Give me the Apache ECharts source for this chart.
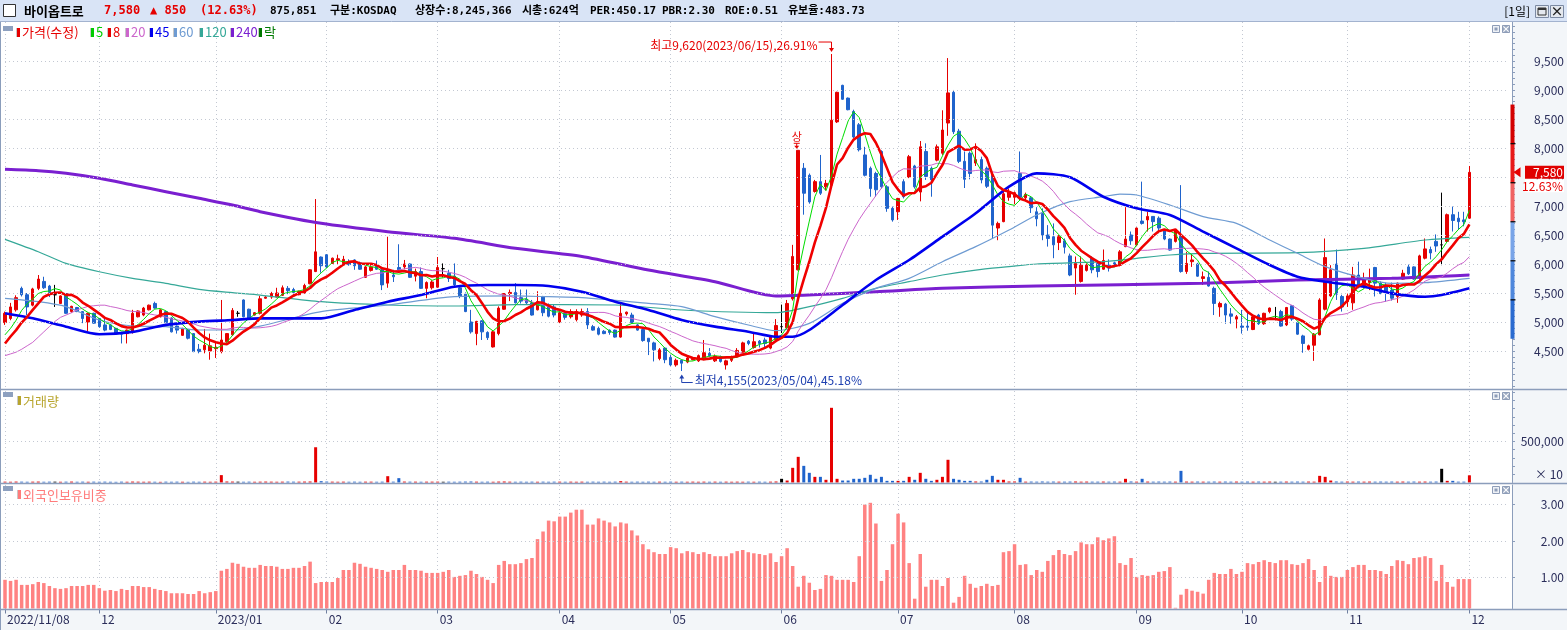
<!DOCTYPE html>
<html><head><meta charset="utf-8">
<script src="https://cdn.jsdelivr.net/npm/echarts@6/dist/echarts.min.js"></script>
<style>html,body{margin:0;padding:0;background:#fff;}#c{width:1567px;height:630px;}</style>
</head><body><div id="c"></div>
<script>
// ---------------- DATA ----------------
const monthLabels = ['2022/11/08','12','2023/01','02','03','04','05','06','07','08','09','10','11','12'];
const monthDays   = [17,21,20,20,22,20,20,21,21,22,19,19,22,1];

const opens = [
4990,5060,5210,5580,5470,5290,5580,5700,5620,5470,5320,5490,5180,5250,5180,5000,5150,
5060,4950,4950,4890,4820,4800,4830,5090,5120,5210,5320,5090,5180,5070,4930,4770,4870,4800,4530,4520,4500,
4540,4490,4660,4780,5150,5380,5220,5120,5150,5410,5430,5430,5460,5580,5560,5470,5500,5660,5870,6120,
6160,6010,6070,6010,6040,6070,6020,5770,5890,5980,5900,5670,5810,5940,5950,6000,5790,5870,5580,5590,
5600,5920,5840,5790,5590,5480,5000,4800,5020,4820,4570,4800,5220,5490,5510,5420,5390,5330,5210,5440,5270,5260,
5000,5150,5090,5040,5120,5180,4920,4890,4840,4860,4860,4740,5140,5120,4950,4870,4720,4640,4370,4550,
4390,4260,4340,4310,4350,4330,4350,4460,4330,4400,4260,4340,4400,4480,4670,4560,4670,4690,4550,4700,
4920,4900,5400,5900,7650,7530,7250,7420,7330,7360,8450,9080,8860,8630,8400,7880,7650,7560,7940,7330,6960,
6900,7420,7500,7690,7240,7940,7650,7790,7910,8430,8960,8290,7770,7910,7740,7800,7650,7530,6620,6730,7150,
7150,7560,7140,7140,6900,6870,6500,6470,6370,6400,6140,5930,5700,5890,6100,6010,5910,5980,6020,5980,6300,6500,
6330,6740,6760,6820,6790,6590,6430,6390,6480,5870,6040,6000,5750,5770,5580,5260,5310,5140,5050,
4930,4930,4870,5120,4970,5180,5060,5180,4950,5280,4990,4760,4530,4600,4780,5220,5450,6000,5440,
5350,5330,5810,5610,5680,5940,5670,5620,5550,5440,5740,5950,5950,5760,6100,6250,6390,6330,6390,6850,6790,6760,
6790];
const closes = [
5150,5260,5420,5470,5260,5570,5740,5590,5510,5470,5450,5150,5270,5180,5060,5150,4980,
4920,4860,4870,4800,4790,4860,5150,5190,5240,5290,5240,5210,4990,4830,4860,4890,4720,4490,4490,4600,4590,
4560,4690,4800,5200,5150,5090,5060,5160,5400,5430,5490,5500,5590,5540,5510,5530,5630,5900,6210,5970,
5950,6100,6090,6080,5990,5970,5910,5950,5950,5910,5640,5900,5780,5900,6000,5770,5870,5580,5680,5690,
5940,5920,5750,5640,5440,5180,4830,5010,4830,4730,4830,5240,5490,5510,5330,5360,5330,5120,5350,5160,5100,5120,
5160,5080,5180,5180,5180,4950,4860,4790,4800,4820,4740,5150,5170,4990,4860,4680,4660,4520,4520,4350,
4260,4340,4290,4380,4370,4420,4470,4420,4410,4320,4330,4400,4510,4640,4630,4660,4630,4630,4750,4940,
4920,5320,6130,7960,7220,7070,7420,7220,7390,8480,8960,8840,8660,8190,7970,7530,7300,7280,7330,6960,6760,
7130,7160,7850,7330,8020,7510,7450,8020,8310,8950,8280,7770,7460,7560,7800,7450,7340,6670,6700,7210,7240,
7230,7150,7200,6970,6780,6500,6440,6330,6470,6290,5810,6010,5980,5980,5900,5870,6060,5930,5980,6210,6430,6400,
6620,6700,6820,6730,6620,6430,6240,6590,5870,6010,6070,5790,5780,5620,5320,5320,5120,5100,5090,
4910,4910,5090,4970,5150,5240,5060,4930,5250,5050,4790,4630,4590,4790,5380,6110,5900,5480,5260,
5450,5810,5600,5750,5750,5670,5490,5520,5410,5670,5840,5830,5740,6140,6260,6190,6310,6330,6850,6750,6730,6730,
7580];
const lows = [
4950,5030,5180,5440,5120,5270,5550,5570,5430,5260,5310,5140,5160,5170,4980,4840,4970,
4900,4840,4860,4790,4630,4630,4800,5080,5100,5200,5230,5080,4980,4820,4800,4760,4700,4480,4460,4460,4350,
4380,4460,4650,4760,5090,5080,5050,5110,5130,5400,5400,5420,5450,5480,5460,5460,5490,5650,5860,5850,
5930,6000,6000,5980,5970,5900,5900,5760,5870,5900,5550,5590,5690,5870,5910,5760,5700,5570,5410,5560,
5590,5770,5690,5620,5410,5170,4800,4600,4690,4690,4560,4770,5210,5360,5320,5320,5310,5110,5200,5100,5080,5080,
4980,5040,5060,5010,5090,4880,4850,4770,4790,4780,4730,4730,5110,4970,4850,4660,4430,4320,4340,4290,
4240,4230,4155,4290,4340,4310,4340,4400,4310,4300,4180,4310,4380,4470,4600,4540,4560,4560,4530,4680,
4810,4880,5370,5890,6850,7040,7230,7190,7270,7330,8430,8830,8650,8170,7940,7510,7160,7160,7300,6900,6730,
6760,7130,7480,7300,7080,7450,7160,7770,7880,8210,8240,7740,7310,7460,7690,7390,7310,6440,6410,6720,7090,
7030,7090,7080,6880,6650,6410,6300,6100,6240,6180,5790,5470,5680,5870,5840,5770,5900,5870,5950,5960,6290,6330,
6310,6680,6560,6560,6530,6410,6230,6370,5850,5830,5950,5780,5640,5610,5120,5090,4970,4970,4890,
4800,4850,4860,4950,4950,5150,5030,4920,4930,5020,4780,4470,4510,4330,4770,5200,5430,5380,5180,
5260,5210,5580,5580,5550,5440,5480,5350,5370,5330,5730,5810,5730,5730,6080,6080,6210,5980,6370,6560,6590,6650,
6780];
const highs = [
5180,5330,5460,5610,5500,5590,5810,5780,5640,5640,5460,5500,5280,5260,5190,5160,5160,
5070,5060,4960,4900,4830,4870,5210,5200,5260,5300,5350,5220,5190,5080,4940,4900,4880,4810,4620,4880,4800,
4660,5380,4810,5240,5190,5390,5230,5170,5450,5450,5520,5590,5630,5620,5590,5540,5660,5910,7120,6130,
6170,6110,6160,6140,6080,6080,6040,5970,5980,6060,5950,6470,5900,6340,6070,6010,5920,5940,5700,5720,
6120,6010,5900,6010,5620,5510,5210,5020,5030,4840,4860,5270,5500,5560,5670,5560,5560,5380,5530,5450,5320,5300,
5200,5160,5220,5220,5230,5240,4950,4920,4860,4870,4870,5320,5180,5160,4970,4900,4720,4660,4550,4560,
4430,4370,4350,4400,4390,4440,4690,4550,4440,4420,4350,4420,4550,4660,4690,4800,4690,4730,4770,5050,
5300,5380,6330,7960,7740,7560,7450,7880,7450,9620,8970,9090,8870,8660,8430,8020,7680,7590,7960,7360,6990,
7140,7460,7880,7710,8120,8080,7680,8060,8650,9550,9000,8330,7940,7940,8080,7850,7680,7560,6730,7250,7300,
7250,7940,7230,7170,6980,6960,6670,6700,6500,6440,6180,6130,6130,6010,6130,6040,6250,6080,6040,6240,6980,6560,
6630,7420,6900,6820,6820,6600,6440,6600,7360,6210,6160,6020,5870,5870,5610,5350,5330,5240,5120,
5210,5180,5120,5140,5160,5250,5260,5210,5260,5290,5010,4780,4610,4810,5410,6440,5980,6250,5470,
5490,5950,6040,5850,5920,5950,5700,5680,5680,5680,5900,5990,5960,6160,6440,6300,6510,7230,6870,6990,6900,6900,
7690];

// volume, in thousands of axis units (axis shown "x 10")
const volumesK = [
10,9,11,10,9,10,11,9,10,10,9,10,11,9,10,9,10,
9,10,9,8,10,9,11,10,9,10,9,8,10,9,10,9,8,10,9,10,9,
10,90,12,11,10,9,10,9,10,11,10,9,10,11,10,10,11,12,430,16,
11,10,9,10,9,10,9,10,10,9,10,77,10,53,11,10,10,9,10,10,
10,9,10,9,10,11,12,10,9,10,9,11,12,10,9,10,9,10,9,10,9,10,
10,9,10,9,10,9,10,9,10,9,10,16,10,9,10,9,10,9,10,9,
10,9,10,9,10,9,10,9,10,9,10,9,10,9,10,9,10,9,10,12,
45,24,179,313,203,118,69,69,33,911,45,24,24,45,45,57,94,45,69,20,20,
20,20,69,33,118,45,20,33,69,277,45,33,20,20,12,12,33,81,33,33,12,
12,57,10,11,10,12,10,11,10,10,11,12,10,11,10,10,11,10,11,10,45,12,
10,45,11,10,11,10,11,10,142,11,10,11,10,10,11,10,11,10,11,
10,11,10,11,10,11,9,10,11,10,11,10,11,10,81,69,24,12,10,
11,10,11,10,11,10,11,10,11,10,11,10,11,10,11,10,11,167,20,20,10,10,
87.6];

// foreign ownership ratio (%)
const foreignPct = [
0.93,0.90,0.93,0.79,0.79,0.81,0.87,0.84,0.76,0.70,0.68,0.70,0.76,0.76,0.76,0.79,0.79,
0.70,0.63,0.65,0.62,0.68,0.65,0.76,0.76,0.73,0.73,0.68,0.65,0.62,0.56,0.56,0.56,0.54,0.54,0.62,0.56,0.59,
0.62,1.18,1.23,1.40,1.37,1.29,1.26,1.26,1.34,1.31,1.31,1.29,1.23,1.23,1.26,1.26,1.31,1.43,0.84,0.87,
0.87,0.87,0.98,1.20,1.20,1.40,1.37,1.29,1.26,1.23,1.20,1.15,1.20,1.20,1.34,1.20,1.20,1.18,1.12,1.12,
1.12,1.15,1.20,1.01,1.04,1.06,1.18,1.09,1.01,0.93,0.84,1.34,1.45,1.36,1.36,1.39,1.50,1.53,2.05,2.26,2.56,2.54,
2.67,2.67,2.78,2.86,2.86,2.45,2.45,2.62,2.56,2.51,2.40,2.51,2.48,2.29,2.15,1.91,1.77,1.69,1.64,1.64,
1.83,1.80,1.66,1.72,1.69,1.64,1.69,1.64,1.58,1.58,1.58,1.66,1.72,1.75,1.69,1.66,1.64,1.61,1.66,1.42,
1.58,1.80,1.31,0.74,1.04,0.85,0.65,0.68,1.06,1.04,0.93,0.93,0.93,0.87,1.58,3.00,3.05,2.48,0.90,1.20,1.91,
2.75,2.51,1.39,0.41,1.64,0.74,0.93,0.93,0.76,0.98,0.30,0.46,1.04,0.82,0.71,0.76,0.82,0.76,0.79,1.69,1.72,
1.91,1.34,1.36,1.06,1.20,1.15,1.45,1.61,1.75,1.64,1.61,1.72,1.96,1.91,1.91,2.10,2.02,2.07,2.13,1.39,1.34,1.53,
1.01,1.06,1.04,1.06,1.15,1.17,1.28,0.16,0.52,0.68,0.63,0.60,0.55,0.93,1.12,1.09,1.09,1.23,1.09,
1.15,1.39,1.36,1.42,1.47,1.42,1.39,1.47,1.47,1.36,1.34,1.39,1.50,1.20,0.87,1.31,1.04,1.01,1.01,
1.20,1.28,1.34,1.34,1.20,1.20,1.17,1.09,1.31,1.47,1.45,1.36,1.53,1.55,1.58,1.53,0.90,1.34,0.87,0.74,0.95,0.95,
0.95];

const ma5Head  = [4780,4890,5030,5200];
const ma8Head  = [4630,4750,4860,4990,5090,5210,5320];
const ma20Head = [4420,4450,4480,4530,4590,4650,4740,4830,4920,5010,5080,5120,5160,5210,5240,5270,5280,5290,5290];
const ma45Pts = [[0,5150],[5,5063],[11,4920],[17,4790],[23,4830],[29,4950],[35,5006],[41,5034],[46,5063],[57,5063],[63,5207],[69,5350],[75,5465],[81,5609],[87,5638],[92,5638],[98,5621],[104,5523],[110,5350],[116,5207],[122,5034],[128,4920],[134,4833],[139,4747],[142,4747],[145,4862],[151,5293],[157,5724],[163,6069],[169,6471],[175,6874],[181,7333],[186,7563],[192,7494],[198,7160],[204,6960],[210,6845],[216,6557],[222,6270],[228,5983],[233,5781],[238,5695],[245,5609],[250,5494],[256,5436],[259,5465],[264,5580]];
const ma60Pts = [[0,5408],[6,5350],[11,5264],[17,5034],[23,4931],[29,4920],[35,4862],[41,4862],[46,4930],[57,5178],[69,5293],[81,5436],[92,5450],[98,5436],[104,5420],[116,5322],[122,5264],[128,5092],[134,4948],[139,4850],[145,4977],[151,5322],[157,5580],[163,5753],[169,6040],[175,6299],[181,6586],[186,6845],[192,7074],[198,7160],[201,7206],[204,7189],[210,7017],[216,6816],[222,6701],[228,6414],[233,6184],[238,5954],[245,5753],[250,5667],[256,5678],[264,5753]];
const ma120Pts = [[0,6425],[6,6212],[11,6011],[17,5867],[23,5753],[29,5667],[35,5563],[41,5506],[46,5465],[57,5350],[69,5293],[81,5276],[92,5300],[110,5293],[122,5207],[139,5160],[145,5264],[151,5408],[157,5580],[163,5695],[169,5810],[175,5896],[181,5954],[186,6000],[198,6040],[204,6098],[210,6155],[216,6184],[233,6195],[245,6270],[256,6414],[264,6460]];
const ma240Pts = [[0,7632],[6,7609],[11,7563],[17,7477],[23,7362],[29,7247],[35,7132],[41,7017],[46,6902],[57,6701],[69,6557],[81,6442],[92,6270],[104,6130],[116,5896],[128,5695],[139,5448],[157,5523],[169,5580],[186,5620],[216,5667],[233,5724],[250,5753],[264,5810]];

const priceTicks   = [4500,5000,5500,6000,6500,7000,7500,8000,8500,9000,9500];
const volumeTicks  = [500000];
const foreignTicks = [1,2,3];

const highMark = {i:149, price:9620, date:'2023/06/15', pct:'26.91%'};
const lowMark  = {i:122, price:4155, date:'2023/05/04', pct:'45.18%'};
const limitUpIdx = 143;
const lastPrice = 7580, lastChange = 850, lastChangePct = 12.63;
const limitBands = [8749, 8076, 7403, 6730, 6057, 5384, 4711];

// ---------------- LAYOUT / STYLE ----------------
const N = 272, LEFT = 5, STEP = 5.547, AXIS_X = 1512;
const GW = (N - 1) * STEP;
const AXIS_OFF = AXIS_X - (LEFT + GW);
const UP = '#E60000', DOWN = '#1F63CC', DOJI = '#000000';
const GRIDC = '#C3C8D2';
const AXISC = '#8B9DBB';
const LBL = '#2A2D5A';
const FONT = '"Noto Sans CJK KR", "Noto Sans", sans-serif';
const MONO = '"DejaVu Sans Mono", "Noto Sans CJK KR", monospace';
const bandColors = ['#D40000','#E81818','#F06262','#78A4E8','#4E87DC','#2A6BD0'];

// ---------------- BUILD ----------------
const cats = [], monthStart = {};
let ci = 0;
monthDays.forEach((d, m) => { monthStart[ci] = monthLabels[m]; for (let k = 0; k < d; k++) { cats.push('d' + ci); ci++; } });
while (cats.length < N) cats.push('d' + cats.length);
const isMS = (i) => monthStart[i] !== undefined;

function sma(src, n, head) {
  const out = [];
  for (let i = 0; i < src.length; i++) {
    if (i < n - 1) { out.push(head[i]); continue; }
    let s = 0; for (let k = i - n + 1; k <= i; k++) s += src[k];
    out.push(Math.round(s / n));
  }
  return out;
}
const ma5 = sma(closes, 5, ma5Head), ma8 = sma(closes, 8, ma8Head), ma20 = sma(closes, 20, ma20Head);

const candleData = opens.map((o, i) => {
  const v = [o, closes[i], lows[i], highs[i]];
  if (o === closes[i]) return {value: v, itemStyle: {color: DOJI, color0: DOJI, borderColor: DOJI, borderColor0: DOJI}};
  return v;
});
const dirColor = (i) => closes[i] > opens[i] ? UP : (closes[i] < opens[i] ? DOWN : DOJI);
const volData = volumesK.map((v, i) => ({value: v * 1000, itemStyle: {color: dirColor(i)}}));

const fmt = (v) => v.toLocaleString('en-US');
const priceTickMarks = []; for (let v = 3900; v <= 10100; v += 100) priceTickMarks.push(v);
const volTickMarks = []; for (let v = 100000; v <= 1100000; v += 100000) volTickMarks.push(v);

const xBase = (gi, bottom) => ({
  type: 'category', gridIndex: gi, data: cats, boundaryGap: false,
  axisLine: {show: false},
  axisTick: bottom ? {show: true, interval: (i) => isMS(i), length: 5, lineStyle: {color: '#6F7F9F'}} : {show: false},
  axisLabel: bottom ? {show: true, interval: (i) => isMS(i), formatter: (v, i) => monthStart[i] || '',
    align: 'left', padding: [0,0,0,2], margin: 5, color: LBL, fontFamily: FONT, fontSize: 12} : {show: false},
  splitLine: {show: true, interval: (i) => isMS(i), lineStyle: {color: GRIDC, type: [1,3], width: 1}}
});
const yBase = (gi, min, max, labels, marks, fmtFn) => ({
  type: 'value', gridIndex: gi, position: 'right', offset: AXIS_OFF, min, max,
  axisLine: {show: true, lineStyle: {color: AXISC, width: 1}},
  axisTick: {show: true, length: 3, customValues: marks, lineStyle: {color: AXISC}},
  axisLabel: {show: true, customValues: labels, formatter: fmtFn, align: 'right', margin: 52,
    color: LBL, fontFamily: FONT, fontSize: 12},
  splitLine: {show: false}
});
const gridLines = (vals) => ({silent: true, symbol: ['none','none'], animation: false,
  label: {show: false}, lineStyle: {color: GRIDC, type: [1,3], width: 1}, data: vals.map(v => ({yAxis: v}))});

const maLine = (name, data, color, width, smooth) => ({type: 'line', name, xAxisIndex: 0, yAxisIndex: 0, data,
  showSymbol: false, symbol: 'none', silent: true, animation: false, lineStyle: {color, width}, z: 3,
  smooth: smooth || false});

function renderAnno(params, api) {
  const k = api.value(2);
  const p = api.coord([api.value(0), api.value(1)]);
  const x = p[0], y = p[1];
  const f = '12px ' + FONT;
  if (k === 0) {
    return {type: 'group', children: [
      {type: 'text', x: x - 14, y: y - 9, style: {text: '최고' + fmt(highMark.price) + '(' + highMark.date + '),' + highMark.pct, fill: UP, font: f, align: 'right', verticalAlign: 'middle'}},
      {type: 'polyline', shape: {points: [[x - 13, y - 12], [x, y - 12], [x, y - 5]]}, style: {stroke: UP, lineWidth: 1, fill: 'none'}},
      {type: 'polygon', shape: {points: [[x - 2.5, y - 6], [x + 2.5, y - 6], [x, y - 2]]}, style: {fill: UP}}
    ]};
  }
  if (k === 1) {
    return {type: 'group', children: [
      {type: 'text', x: x + 13, y: y + 9.5, style: {text: '최저' + fmt(lowMark.price) + '(' + lowMark.date + '),' + lowMark.pct, fill: '#1F40B0', font: f, align: 'left', verticalAlign: 'middle'}},
      {type: 'polyline', shape: {points: [[x, y + 7], [x, y + 11.5], [x + 11, y + 11.5]]}, style: {stroke: '#1F40B0', lineWidth: 1, fill: 'none'}},
      {type: 'polygon', shape: {points: [[x - 2.5, y + 7.5], [x + 2.5, y + 7.5], [x, y + 3.5]]}, style: {fill: '#1F40B0'}}
    ]};
  }
  return {type: 'group', children: [
    {type: 'text', x: x - 1.5, y: y - 13.5, style: {text: '상', fill: UP, font: '11px ' + FONT, align: 'center', verticalAlign: 'middle'}},
    {type: 'line', shape: {x1: x - 4.5, y1: y - 7, x2: x + 1.5, y2: y - 7}, style: {stroke: UP, lineWidth: 1}},
    {type: 'line', shape: {x1: x - 1.5, y1: y - 7, x2: x - 1.5, y2: y - 4}, style: {stroke: UP, lineWidth: 1}},
    {type: 'polygon', shape: {points: [[x - 4, y - 4.5], [x + 1, y - 4.5], [x - 1.5, y - 1.5]]}, style: {fill: UP}}
  ]};
}
const annoData = [[highMark.i, highMark.price, 0], [lowMark.i, lowMark.price, 1], [limitUpIdx, highs[limitUpIdx], 2]];

function renderBand(params, api) {
  const y1 = api.coord([0, api.value(1)])[1];
  const y2 = api.coord([0, api.value(2)])[1];
  const k = api.value(3);
  const ch = [{type: 'rect', shape: {x: AXIS_X - 1.5, y: y1, width: 4, height: y2 - y1}, style: {fill: bandColors[k]}}];
  if (k > 0) ch.push({type: 'rect', shape: {x: AXIS_X - 1.5, y: y1 - 0.5, width: 5, height: 1.2}, style: {fill: '#000'}});
  return {type: 'group', children: ch};
}
const bandData = []; for (let k = 0; k < limitBands.length - 1; k++) bandData.push([0, limitBands[k], limitBands[k + 1], k]);

function renderTag(params, api) {
  const y = api.coord([0, api.value(1)])[1];
  return {type: 'group', children: [
    {type: 'polygon', shape: {points: [[AXIS_X + 1.5, y], [AXIS_X + 8.5, y - 5], [AXIS_X + 8.5, y + 5]]}, style: {fill: UP}},
    {type: 'rect', shape: {x: 1525, y: y - 6.5, width: 39, height: 13}, style: {fill: '#E00000'}},
    {type: 'text', x: 1563, y: y + 0.5, style: {text: fmt(lastPrice), fill: '#fff', font: '12px ' + FONT, align: 'right', verticalAlign: 'middle'}},
    {type: 'rect', shape: {x: 1525, y: y + 7, width: 39, height: 13}, style: {fill: '#fff'}},
    {type: 'text', x: 1563, y: y + 14, style: {text: lastChangePct.toFixed(2) + '%', fill: UP, font: '12px ' + FONT, align: 'right', verticalAlign: 'middle'}}
  ]};
}

// ---------------- GRAPHIC (frame, header, legends) ----------------
const G = [];
G.push({type: 'rect', z: -10, shape: {x: AXIS_X, y: 22, width: 1567 - AXIS_X, height: 588}, style: {fill: '#F3F6F9'}});
G.push({type: 'rect', z: -10, shape: {x: 0, y: 610, width: 1567, height: 20}, style: {fill: '#F3F6F9'}});
G.push({type: 'rect', z: 50, shape: {x: 0, y: 0, width: 1567, height: 21}, style: {fill: '#D9E4F6'}});
G.push({type: 'line', z: 50, shape: {x1: 0, y1: 21.5, x2: 1567, y2: 21.5}, style: {stroke: '#A3B3CF', lineWidth: 1}});
[389.5, 483.5, 609.5].forEach(y => G.push({type: 'line', z: 50, shape: {x1: 0, y1: y, x2: 1567, y2: y}, style: {stroke: AXISC, lineWidth: 1.5}}));
G.push({type: 'line', z: 50, shape: {x1: 0.5, y1: 22, x2: 0.5, y2: 630}, style: {stroke: AXISC, lineWidth: 1}});
G.push({type: 'rect', z: 51, shape: {x: 3.5, y: 4.5, width: 12, height: 12}, style: {fill: '#fff', stroke: '#333', lineWidth: 1}});
const hdr = [
  [24, '바이옵트로', '#000', 'bold 13px ' + FONT],
  [104, fmt(lastPrice), UP, 'bold 12px ' + MONO],
  [150, '▲ ' + lastChange, UP, 'bold 12px ' + MONO],
  [200, '(' + lastChangePct.toFixed(2) + '%)', UP, 'bold 12px ' + MONO],
  [270, '875,851', '#000', 'bold 11px ' + MONO],
  [330, '구분:KOSDAQ', '#000', 'bold 11px ' + MONO],
  [415, '상장수:8,245,366', '#000', 'bold 11px ' + MONO],
  [522, '시총:624억', '#000', 'bold 11px ' + MONO],
  [590, 'PER:450.17', '#000', 'bold 11px ' + MONO],
  [662, 'PBR:2.30', '#000', 'bold 11px ' + MONO],
  [725, 'ROE:0.51', '#000', 'bold 11px ' + MONO],
  [788, '유보율:483.73', '#000', 'bold 11px ' + MONO]
];
hdr.forEach(h => G.push({type: 'text', z: 52, x: h[0], y: 11, style: {text: h[1], fill: h[2], font: h[3], verticalAlign: 'middle'}}));
G.push({type: 'text', z: 52, x: 1530, y: 11, style: {text: '[1일]', fill: '#000', font: '12px ' + FONT, align: 'right', verticalAlign: 'middle'}});
G.push({type: 'rect', z: 52, shape: {x: 1535.5, y: 5.5, width: 13, height: 12}, style: {fill: '#E4E8EE', stroke: '#7C8AA3'}});
G.push({type: 'rect', z: 53, shape: {x: 1538, y: 8, width: 8, height: 7}, style: {fill: 'none', stroke: '#333', lineWidth: 1}});
G.push({type: 'rect', z: 53, shape: {x: 1538, y: 8, width: 8, height: 2}, style: {fill: '#333'}});
G.push({type: 'rect', z: 52, shape: {x: 1550.5, y: 5.5, width: 13, height: 12}, style: {fill: '#E4E8EE', stroke: '#7C8AA3'}});
G.push({type: 'text', z: 53, x: 1557, y: 11.5, style: {text: '×', fill: '#222', font: 'bold 13px ' + FONT, align: 'center', verticalAlign: 'middle'}});

// panel icons & titles
[[26, 32], [392, 401], [486, 495]].forEach(p => G.push({type: 'rect', z: 52, shape: {x: 3, y: p[0], width: 10, height: 5}, style: {fill: '#8DA0BF'}}));
const legendItems = [
  [17, '가격(수정)', UP], [91, '5', '#00CC00'], [108, '8', UP], [126, '20', '#CC66CC'], [150, '45', '#0000EE'],
  [174, '60', '#6E9BD2'], [200, '120', '#35A898'], [231, '240', '#7A1FD0'], [259, '락', '#007A00']
];
legendItems.forEach(l => {
  G.push({type: 'rect', z: 52, shape: {x: l[0] - 1, y: 28, width: 1, height: 9}, style: {fill: '#C8C8C8'}});
  G.push({type: 'rect', z: 52, shape: {x: l[0], y: 28, width: 3, height: 9}, style: {fill: l[2]}});
  G.push({type: 'text', z: 52, x: l[0] + 5, y: 32.5, style: {text: l[1], fill: l[2], font: '13px ' + FONT, verticalAlign: 'middle'}});
});
[[396, 401, '거래량', '#B8A52E'], [490, 495, '외국인보유비중', '#FF7B7B']].forEach(t => {
  G.push({type: 'rect', z: 52, shape: {x: 17, y: t[0], width: 1, height: 9}, style: {fill: '#C8C8C8'}});
  G.push({type: 'rect', z: 52, shape: {x: 18, y: t[0], width: 3, height: 9}, style: {fill: t[3]}});
  G.push({type: 'text', z: 52, x: 23, y: t[1], style: {text: t[2], fill: t[3], font: '13px ' + FONT, verticalAlign: 'middle'}});
});
[25, 392, 486].forEach(y => {
  G.push({type: 'rect', z: 52, shape: {x: 1492.5, y: y + 0.5, width: 7, height: 7}, style: {fill: '#EEF1F6', stroke: '#8E9DB8'}});
  G.push({type: 'rect', z: 53, shape: {x: 1494.5, y: y + 2.5, width: 3, height: 3}, style: {fill: '#8E9DB8'}});
  G.push({type: 'rect', z: 52, shape: {x: 1502.5, y: y + 0.5, width: 7, height: 7}, style: {fill: '#9AA8C0', stroke: '#8E9DB8'}});
  G.push({type: 'text', z: 53, x: 1506, y: y + 4, style: {text: '×', fill: '#fff', font: 'bold 9px ' + FONT, align: 'center', verticalAlign: 'middle'}});
});
G.push({type: 'text', z: 52, x: 1563, y: 474, style: {text: '× 10', fill: LBL, font: '12px ' + FONT, align: 'right', verticalAlign: 'middle'}});

// ---------------- OPTION ----------------
const option = {
  animation: false,
  backgroundColor: '#ffffff',
  grid: [
    {left: LEFT, width: GW, top: 22, height: 367},
    {left: LEFT, width: GW, top: 391, height: 91.5},
    {left: LEFT, width: GW, top: 485, height: 123.5}
  ],
  xAxis: [xBase(0, false), xBase(1, false), xBase(2, true)],
  yAxis: [
    yBase(0, 3845, 10172, priceTicks, priceTickMarks, (v) => fmt(v)),
    yBase(1, 0, 1115850, volumeTicks, volTickMarks, (v) => fmt(v)),
    yBase(2, 0.14, 3.54, foreignTicks, foreignTicks, (v) => v.toFixed(2))
  ],
  graphic: {elements: G},
  series: [
    {type: 'candlestick', name: '가격(수정)', xAxisIndex: 0, yAxisIndex: 0, data: candleData, barWidth: 3, clip: false,
      itemStyle: {color: UP, color0: DOWN, borderColor: UP, borderColor0: DOWN, borderWidth: 1},
      markLine: gridLines(priceTicks)},
    maLine('240', ma240Pts, '#7A1FD0', 3, 0.25),
    maLine('120', ma120Pts, '#35A898', 1.2, 0.25),
    maLine('60', ma60Pts, '#6E9BD2', 1.2, 0.25),
    maLine('20', ma20, '#CC66CC', 1),
    maLine('5', ma5, '#00DD00', 1),
    maLine('45', ma45Pts, '#0000EE', 2.6, 0.25),
    maLine('8', ma8, '#F00000', 2.6),
    {type: 'custom', name: 'annot', xAxisIndex: 0, yAxisIndex: 0, data: annoData, renderItem: renderAnno, clip: false, silent: true, z: 6},
    {type: 'custom', name: 'band', xAxisIndex: 0, yAxisIndex: 0, data: bandData, renderItem: renderBand, clip: false, silent: true, z: 6, encode: {x: 0, y: 1}},
    {type: 'custom', name: 'tag', xAxisIndex: 0, yAxisIndex: 0, data: [[0, lastPrice]], renderItem: renderTag, clip: false, silent: true, z: 7},
    {type: 'bar', name: '거래량', xAxisIndex: 1, yAxisIndex: 1, data: volData, barWidth: 3, silent: true,
      markLine: gridLines(volumeTicks)},
    {type: 'bar', name: '외국인보유비중', xAxisIndex: 2, yAxisIndex: 2, data: foreignPct, barWidth: 3.5, silent: true,
      itemStyle: {color: '#FF8282'}, markLine: gridLines(foreignTicks)}
  ]
};
const chart = echarts.init(document.getElementById('c'), null, {renderer: 'canvas'});
chart.setOption(option);
</script>
</body></html>
